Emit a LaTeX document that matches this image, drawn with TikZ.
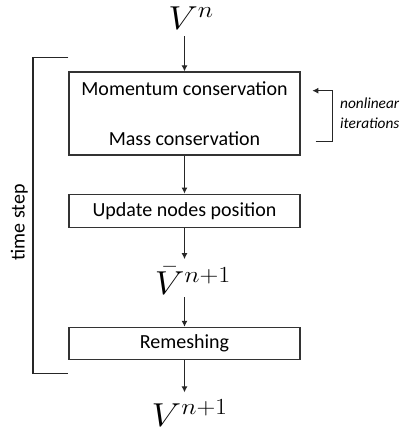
\documentclass[tikz,border=0pt]{standalone}
\usepackage{fontspec}
\setmainfont{Carlito}
\usetikzlibrary{positioning, arrows.meta}

\begin{document}
\begin{tikzpicture}[
     >={Latex[length=4.5pt, width=4.5pt]},
     node distance = 28.5pt and 3mm,
        box/.style = {rectangle, draw=black!80, line width=0.9pt, minimum width=173.25pt,
                      inner sep=0pt, align=center, font=\fontsize{15}{18}\selectfont},
        var/.style = {inner sep=2pt, font=\fontsize{26}{30}\selectfont},
       flow/.style = {->, line width=0.8pt, black!85},
                        ]
\useasboundingbox (-138.375pt,85.125pt) rectangle (163.875pt,-235.875pt);
\node (mom) [box, minimum height=62.25pt] at (0,0) {Momentum conservation\\[19.5pt]Mass conservation};
\node (Vn)  [var, above=29.2pt of mom, xshift=5pt] {\scalebox{1.13}[1]{$V^n$}};
\node (upd) [box, minimum height=24.75pt, below=of mom] {Update nodes position};
\node (Vbar)[var, below=27.5pt of upd, xshift=6.4pt] {\scalebox{1.13}[1]{$\bar{V}^{n+1}$}};
\node (rem) [box, minimum height=24pt, below=74.25pt of upd] {Remeshing};
\node (Vnn) [var, below=27.3pt of rem, xshift=4pt] {\scalebox{1.13}[1]{$V^{n+1}$}};
\draw[flow, shorten <=3pt] (mom |- Vn.south) to (mom);
\draw[flow] (mom) to (upd);
\draw[flow, shorten >=4pt] (upd) to (upd |- Vbar.north);
\draw[flow] (upd |- Vbar.south) to (rem);
\draw[flow, shorten >=3pt] (rem) to (rem |- Vnn.north);
% nonlinear loop
\coordinate (itout) at ([xshift=11.25pt, yshift=-21.15pt]mom.east);
\coordinate (itx)   at ([xshift=23.8pt]mom.east);
\coordinate (itin)  at ([xshift=8.8pt, yshift=17.1pt]mom.east);
\draw[flow] (itout) -| (itx) |- (itin);
\node (iter) [right=29.5pt of mom, inner sep=0pt, align=left,
              font=\fontsize{11.5}{15}\selectfont\itshape] {nonlinear\\iterations};
% time step bracket
\coordinate (tstop) at ([yshift=10.5pt]mom.north west);
\coordinate (tsbot) at ([yshift=-10.3pt]rem.south west);
\coordinate (tsx)   at ([xshift=-26.6pt]upd.west);
\draw[line width=0.9pt, black!85] (tstop) -| (tsx) |- (tsbot);
\node (ts) [rotate=90, font=\fontsize{15}{18}\selectfont] at ([xshift=-36.75pt, yshift=-8.6pt]upd.west) {time step};
\end{tikzpicture}
\end{document}
